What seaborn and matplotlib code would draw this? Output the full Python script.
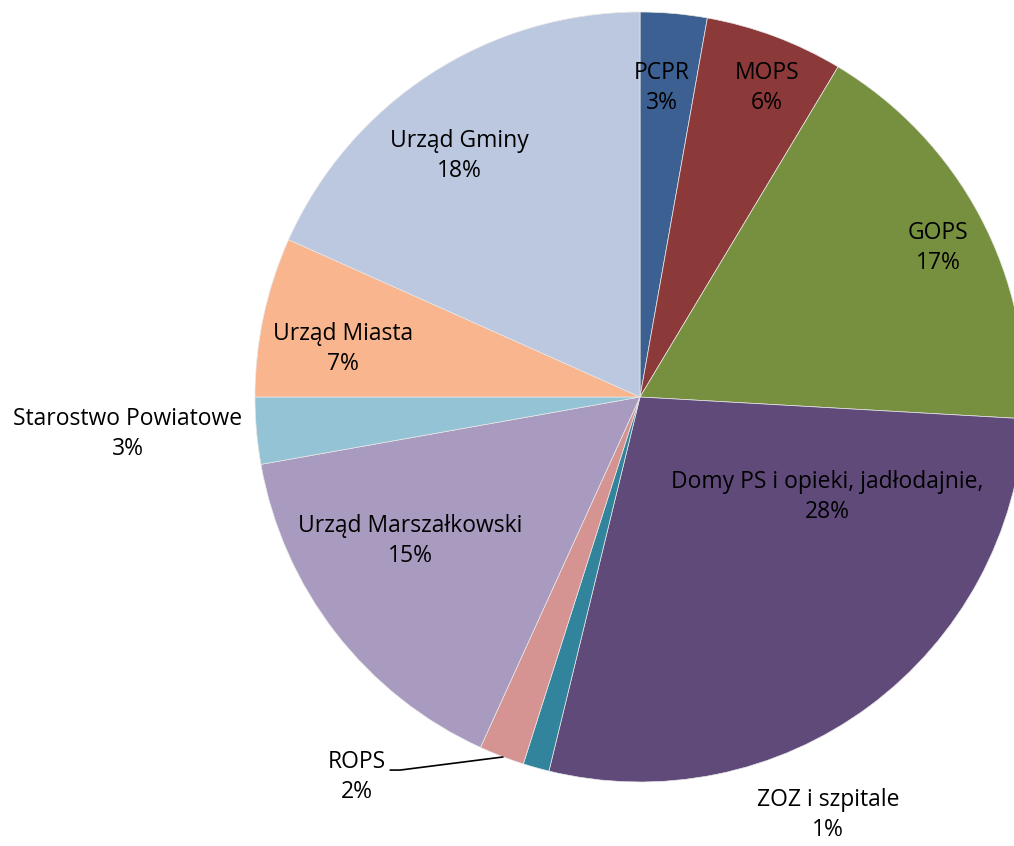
import matplotlib
matplotlib.use("Agg")
import matplotlib.pyplot as plt
import seaborn as sns

# -----------------------------
# DATA
# -----------------------------
labels = ["PCPR", "MOPS", "GOPS", "Domy PS i opieki, jadłodajnie,", "ZOZ i szpitale",
          "ROPS", "Urząd Marszałkowski", "Starostwo Powiatowe", "Urząd Miasta", "Urząd Gminy"]
values = [2.8, 5.8, 17.3, 27.9, 1.1, 1.9, 15.4, 2.8, 6.7, 18.3]
colors = ["#3C6091", "#8C3A39", "#77903F", "#5F4A7A", "#31849B",
          "#D59391", "#A99ABF", "#93C3D5", "#F8B58E", "#BCC7E0"]

# label placement (data coords, pie radius = 1)
label_pos = [(0.057, 0.803), (0.330, 0.803), (0.774, 0.387), (0.486, -0.260), (0.488, -1.086),
             (-0.735, -0.987), (-0.597, -0.374), (-1.330, -0.096), (-0.771, 0.125), (-0.468, 0.626)]

# -----------------------------
# PLOT
# -----------------------------
sns.set_theme(style="white")
plt.rcParams["font.family"] = ["Open Sans", "DejaVu Sans"]

fig = plt.figure(figsize=(10.14, 8.46), dpi=100)
ax = fig.add_axes([255 / 1014, (846 - 397 - 385) / 846, 770 / 1014, 770 / 846])
ax.pie(values, colors=colors, startangle=90, counterclock=False, radius=1,
       wedgeprops=dict(linewidth=0.5, edgecolor="#E8E8E8"))
ax.set_xlim(-1, 1)
ax.set_ylim(-1, 1)
ax.set_aspect("equal")
ax.axis("off")

total = sum(values)
for lab, val, (x, y) in zip(labels, values, label_pos):
    ax.text(x, y, f"{lab}\n{round(val / total * 100)}%", ha="center", va="center",
            fontsize=16.5, color="black", linespacing=1.35, clip_on=False)

# leader line for ROPS
ax.plot([-0.649, -0.623, -0.356], [-0.969, -0.969, -0.935], color="black", lw=1.2, clip_on=False)

fig.savefig("out.png", dpi=100)
